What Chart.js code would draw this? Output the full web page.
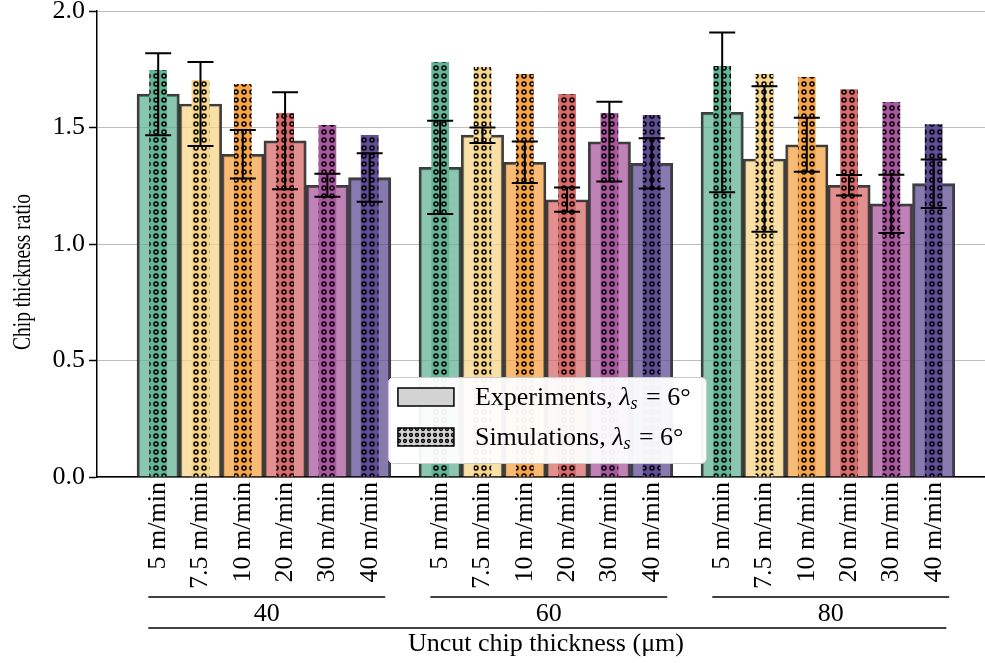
<!DOCTYPE html>
<html>
<head>
<meta charset="utf-8">
<script src="https://cdn.jsdelivr.net/npm/chart.js@4.4.1/dist/chart.umd.min.js"></script>
<style>
  html, body { margin: 0; background: #fff; }
</style>
</head>
<body>
<canvas id="chart" width="985" height="663"></canvas>
<script>
// Chip thickness ratio: experiments vs simulations, grouped by uncut chip thickness
const speeds = ["5 m/min", "7.5 m/min", "10 m/min", "20 m/min", "30 m/min", "40 m/min"];
const thicknesses = ["40", "60", "80"];
const yTicks = [0, 0.5, 1.0, 1.5, 2.0];

// one row per uncut chip thickness (40, 60, 80 µm), one value per speed
const expRatio = [
  [1.643, 1.601, 1.385, 1.443, 1.252, 1.285],
  [1.329, 1.467, 1.351, 1.190, 1.439, 1.346],
  [1.565, 1.365, 1.426, 1.252, 1.172, 1.259],
];
const expError = [
  [0.176, 0.180, 0.104, 0.208, 0.049, 0.104],
  [0.200, 0.033, 0.089, 0.052, 0.171, 0.108],
  [0.343, 0.312, 0.116, 0.044, 0.125, 0.104],
];
const simRatio = [
  [1.747, 1.704, 1.687, 1.562, 1.511, 1.468],
  [1.781, 1.760, 1.730, 1.644, 1.562, 1.554],
  [1.764, 1.730, 1.717, 1.664, 1.609, 1.514],
];

const speedColors = [
  [99, 179, 149], [245, 213, 138], [245, 164, 72],
  [214, 107, 106], [169, 88, 159], [94, 77, 148],
];

const FONT = "'Liberation Serif', 'Times New Roman', serif";
const BAR_STEP = 0.15;
const pos = (g, i) => g + (i - 2.5) * BAR_STEP;
const rgba = (c, a) => `rgba(${c[0]},${c[1]},${c[2]},${a})`;

// "o" hatch: black rings on the bar colour
function dotPattern(fill, size = 8, r = 2) {
  const c = document.createElement("canvas");
  c.width = size; c.height = size;
  const g = c.getContext("2d");
  g.fillStyle = fill;
  g.fillRect(0, 0, size, size);
  g.beginPath();
  g.arc(size / 2, size / 2, r, 0, Math.PI * 2);
  g.strokeStyle = "#000";
  g.lineWidth = 1.5;
  g.stroke();
  return g.createPattern(c, "repeat");
}

const expPoints = [], simPoints = [], expFill = [], simFill = [], tickPos = [];
thicknesses.forEach((t, g) => {
  speeds.forEach((s, i) => {
    const x = pos(g, i);
    tickPos.push(x);
    expPoints.push({ x, y: expRatio[g][i] });
    simPoints.push({ x, y: simRatio[g][i] });
    expFill.push(rgba(speedColors[i], 0.75));
    simFill.push(dotPattern(rgba(speedColors[i], 1)));
  });
});

const errorBars = {
  id: "errorBars",
  afterDraw(chart) {
    const { ctx, scales: { x, y } } = chart;
    ctx.save();
    ctx.strokeStyle = "#000";
    ctx.lineWidth = 2;
    thicknesses.forEach((t, g) => speeds.forEach((s, i) => {
      const px = x.getPixelForValue(pos(g, i));
      const top = y.getPixelForValue(expRatio[g][i] + expError[g][i]);
      const bot = y.getPixelForValue(expRatio[g][i] - expError[g][i]);
      ctx.beginPath();
      ctx.moveTo(px, top); ctx.lineTo(px, bot);
      ctx.moveTo(px - 13, top); ctx.lineTo(px + 13, top);
      ctx.moveTo(px - 13, bot); ctx.lineTo(px + 13, bot);
      ctx.stroke();
    }));
    ctx.restore();
  },
};

const decorations = {
  id: "decorations",
  afterDraw(chart) {
    const { ctx, chartArea, scales: { x } } = chart;
    const b = chartArea.bottom;
    ctx.save();
    ctx.fillStyle = "#000";
    ctx.strokeStyle = "#000";
    ctx.lineWidth = 1.5;
    ctx.font = `26px ${FONT}`;
    ctx.textAlign = "center";
    ctx.textBaseline = "middle";

    // group brackets
    thicknesses.forEach((t, g) => {
      const a = x.getPixelForValue(g - 0.41), e = x.getPixelForValue(g + 0.43);
      ctx.beginPath(); ctx.moveTo(a, b + 120); ctx.lineTo(e, b + 120); ctx.stroke();
      ctx.fillText(t, (a + e) / 2, b + 137);
    });
    const a = x.getPixelForValue(-0.41), e = x.getPixelForValue(2.42);
    ctx.beginPath(); ctx.moveTo(a, b + 151); ctx.lineTo(e, b + 151); ctx.stroke();
    ctx.fillText("Uncut chip thickness (μm)", x.getPixelForValue(1), b + 167);

    // y title (narrower than the tick font in the original)
    ctx.save();
    ctx.translate(23, 272);
    ctx.rotate(-Math.PI / 2);
    ctx.scale(0.75, 1);
    ctx.font = `26px ${FONT}`;
    ctx.fillText("Chip thickness ratio", 0, 0);
    ctx.restore();

    // legend
    const w = 318, h = 86;
    const lx = x.getPixelForValue(1) - w / 2 + 1, ly = b - 14 - h;
    ctx.beginPath();
    ctx.roundRect(lx + 0.5, ly + 0.5, w, h, 5);
    ctx.fillStyle = "rgba(255,255,255,0.95)";
    ctx.fill();
    ctx.strokeStyle = "#cccccc";
    ctx.lineWidth = 1;
    ctx.stroke();

    const rows = [["Experiments", "#d3d3d3"], ["Simulations", dotPattern("#d3d3d3", 6, 1.4)]];
    rows.forEach(([label, fill], k) => {
      const py = ly + 11 + k * 40;
      ctx.fillStyle = fill;
      ctx.fillRect(lx + 10, py, 56, 18);
      ctx.strokeStyle = "#000";
      ctx.lineWidth = 1.5;
      ctx.strokeRect(lx + 10, py, 56, 18);

      let tx = lx + 87;
      const ty = py + 10;
      ctx.fillStyle = "#000";
      ctx.textAlign = "left";
      ctx.font = `26px ${FONT}`;
      ctx.fillText(label + ", ", tx, ty);
      tx += ctx.measureText(label + ", ").width;
      ctx.font = `italic 26px ${FONT}`;
      ctx.fillText("λ", tx, ty);
      tx += ctx.measureText("λ").width;
      ctx.font = `italic 18px ${FONT}`;
      ctx.fillText("s", tx, ty + 6);
      tx += ctx.measureText("s").width + 2;
      ctx.font = `26px ${FONT}`;
      ctx.fillText(" = 6°", tx, ty);
    });
    ctx.restore();
  },
};

Chart.defaults.font.family = FONT;
Chart.defaults.font.size = 26;
Chart.defaults.color = "#000";

new Chart(document.getElementById("chart"), {
  type: "bar",
  data: {
    datasets: [
      {
        label: "Experiments", data: expPoints, order: 2,
        backgroundColor: expFill, borderColor: "rgba(45,45,45,0.92)", borderWidth: 2.5,
        barPercentage: 1, categoryPercentage: 1, grouped: false,
      },
      {
        label: "Simulations", data: simPoints, order: 1,
        backgroundColor: simFill, borderWidth: 0,
        barPercentage: 0.42, categoryPercentage: 1, grouped: false,
      },
    ],
  },
  options: {
    responsive: false,
    animation: false,
    layout: { padding: { top: 11, left: 0, right: 0, bottom: 0 } },
    plugins: { legend: { display: false }, tooltip: { enabled: false } },
    scales: {
      x: {
        type: "linear", offset: false,
        min: -0.592, max: 2.557,
        grid: { display: false, drawTicks: false },
        border: { color: "#000", width: 1.5 },
        afterBuildTicks: (s) => { s.ticks = tickPos.map((v) => ({ value: v })); },
        afterFit: (s) => { s.height = 186; s.paddingLeft = 0; s.paddingRight = 0; },
        ticks: {
          autoSkip: false, maxRotation: 90, minRotation: 90, padding: 5,
          callback: (v, i) => speeds[i % speeds.length],
        },
      },
      y: {
        min: 0, max: 2, z: 1,
        afterBuildTicks: (s) => { s.ticks = yTicks.map((v) => ({ value: v })); },
        afterFit: (s) => { s.width = 97; s.paddingTop = 0; s.paddingBottom = 0; },
        grid: { color: "#bdbdbd", lineWidth: 1, tickLength: 8, tickColor: "#000", tickWidth: 1.5 },
        border: { color: "#000", width: 1.5 },
        ticks: { padding: 4, callback: (v) => v.toFixed(1) },
      },
    },
  },
  plugins: [errorBars, decorations],
});
</script>
</body>
</html>
